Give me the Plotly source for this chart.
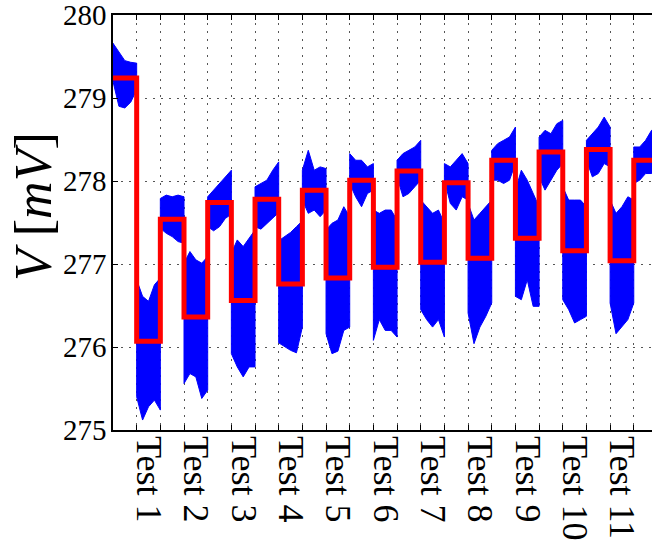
import numpy as np
import plotly.graph_objects as go

# Test labels (one per low/high pair)
tests = ["Test 1", "Test 2", "Test 3", "Test 4", "Test 5", "Test 6",
         "Test 7", "Test 8", "Test 9", "Test 10", "Test 11"]

# Mean voltage per segment [mV]
v_start = 279.24
v_low = [276.07, 276.36, 276.56, 276.76, 276.83, 276.96,
         277.02, 277.07, 277.31, 277.16, 277.04]
v_high = [277.54, 277.74, 277.78, 277.89, 278.01, 278.12,
          277.98, 278.25, 278.35, 278.38, 278.25]

# Upper / lower envelope of the raw signal in each segment [mV]
env_top = [
    [279.66, 279.56, 279.45, 279.43, 279.42],
    [276.81, 276.61, 276.55, 276.75, 276.83],
    [277.79, 277.83, 277.81, 277.83, 277.81],
    [277.01, 277.15, 277.05, 277.01, 277.09],
    [277.81, 277.89, 277.97, 278.05, 278.13],
    [277.13, 277.29, 277.21, 277.31, 277.41],
    [277.93, 277.97, 278.01, 278.13, 278.23],
    [277.28, 277.33, 277.38, 277.45, 277.52],
    [278.13, 278.37, 278.13, 278.17, 278.15],
    [277.41, 277.49, 277.53, 277.69, 277.57],
    [278.33, 278.25, 278.25, 278.17, 278.21],
    [277.65, 277.61, 277.65, 277.65, 277.53],
    [278.25, 278.33, 278.37, 278.41, 278.49],
    [277.77, 277.69, 277.61, 277.65, 277.49],
    [278.21, 278.17, 278.25, 278.33, 278.21],
    [277.73, 277.53, 277.61, 277.69, 277.77],
    [278.37, 278.45, 278.49, 278.53, 278.65],
    [277.89, 278.13, 278.01, 277.85, 277.69],
    [278.53, 278.61, 278.57, 278.69, 278.73],
    [277.93, 277.77, 277.77, 277.77, 277.69],
    [278.49, 278.57, 278.65, 278.77, 278.65],
    [277.77, 277.61, 277.69, 277.81, 277.77],
    [278.41, 278.41, 278.49, 278.61, 278.65],
]
env_bot = [
    [279.20, 278.90, 278.88, 278.95, 279.10],
    [275.40, 275.12, 275.28, 275.36, 275.24],
    [277.43, 277.37, 277.33, 277.27, 277.25],
    [275.56, 275.68, 275.64, 275.38, 275.48],
    [277.45, 277.40, 277.45, 277.55, 277.60],
    [275.92, 275.76, 275.64, 275.76, 275.76],
    [277.45, 277.42, 277.48, 277.55, 277.62],
    [276.05, 276.00, 275.96, 275.93, 276.24],
    [277.77, 277.61, 277.65, 277.57, 277.65],
    [276.16, 275.92, 275.95, 276.20, 276.24],
    [277.97, 277.81, 277.69, 277.85, 277.89],
    [276.08, 276.33, 276.20, 276.20, 276.12],
    [278.05, 277.81, 277.85, 277.93, 278.01],
    [276.45, 276.33, 276.24, 276.33, 276.12],
    [278.01, 277.73, 277.65, 277.81, 277.77],
    [276.41, 276.04, 276.24, 276.37, 276.53],
    [278.01, 278.01, 277.97, 278.01, 278.21],
    [276.61, 276.57, 276.81, 276.49, 276.49],
    [278.05, 277.89, 278.01, 278.13, 278.21],
    [276.57, 276.45, 276.29, 276.33, 276.37],
    [278.25, 278.05, 278.09, 278.21, 278.17],
    [276.53, 276.16, 276.24, 276.33, 276.53],
    [277.97, 278.01, 278.09, 278.09, 278.05],
]

# Segment means in time order: start, then low/high for each test
seg_vals = [v_start]
for lo, hi in zip(v_low, v_high):
    seg_vals += [lo, hi]

# Envelope polygons, one closed shape per segment
frac = np.linspace(0, 1, len(env_top[0]))
bx, by = [], []
for k, (top, bot) in enumerate(zip(env_top, env_bot)):
    xt = list(k + frac)
    bx += xt + xt[::-1] + [xt[0], None]
    by += top + bot[::-1] + [top[0], None]

fig = go.Figure()
fig.add_trace(go.Scatter(
    x=bx, y=by, mode="lines", fill="toself",
    fillcolor="#0000ff", line=dict(color="#0000ff", width=1),
    hoverinfo="skip", showlegend=False,
))
fig.add_trace(go.Scatter(
    x=list(range(len(seg_vals) + 1)), y=seg_vals + [seg_vals[-1]],
    mode="lines", line=dict(color="#ff0000", width=5, shape="hv"),
    showlegend=False,
))

tickvals = list(range(1, 2 * len(tests) + 1))
ticktext = [tests[(t - 1) // 2] if t % 2 == 1 else "" for t in tickvals]

serif = "Liberation Serif, Times New Roman, serif"
grid = dict(showgrid=True, gridcolor="#555555", gridwidth=1, griddash="2px,6px")

fig.update_xaxes(
    range=[0, 22.77], tickvals=tickvals, ticktext=ticktext,
    tickangle=90, ticks="inside", ticklen=5, tickcolor="black",
    ticklabelshift=12, ticklabelstandoff=-3, ticklabeloverflow="allow",
    showline=True, linecolor="black", linewidth=1.5, mirror="ticks",
    zeroline=False, tickfont=dict(family=serif, size=36, color="black"),
    **grid,
)
fig.update_yaxes(
    range=[275, 280], dtick=1, ticks="inside", ticklen=5, tickcolor="black",
    showline=True, linecolor="black", linewidth=1.5, zeroline=False,
    ticklabelstandoff=-1, ticklabeloverflow="allow",
    tickfont=dict(family=serif, size=29, color="black"),
    **grid,
)
fig.add_annotation(
    text="<i>V</i> [<i>mV</i>]", textangle=-90,
    xref="paper", yref="paper", x=(34 - 113) / 539, y=(430 - 207) / 415,
    xanchor="center", yanchor="middle", showarrow=False,
    font=dict(family=serif, size=52, color="black"),
)
fig.update_layout(
    width=652, height=542,
    margin=dict(l=113, r=0, t=15, b=112, autoexpand=False),
    plot_bgcolor="white", paper_bgcolor="white",
)
fig.write_html("out.html")
